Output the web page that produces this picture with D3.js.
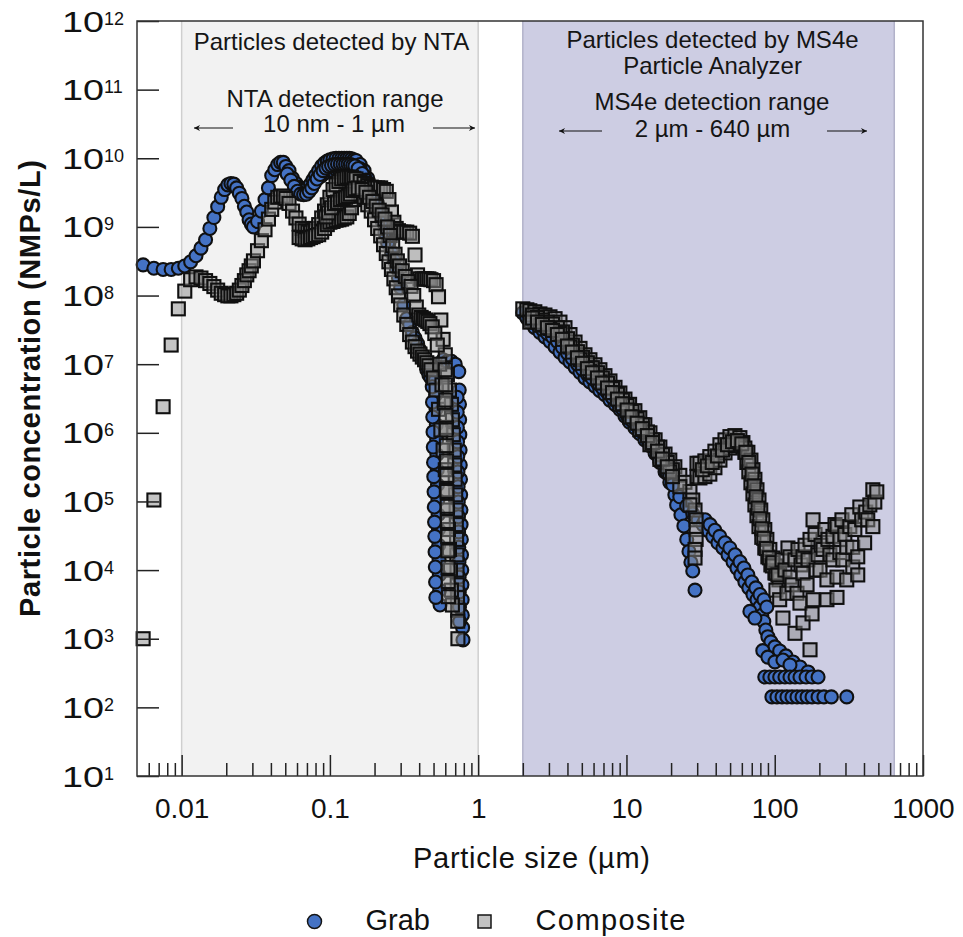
<!DOCTYPE html>
<html>
<head>
<meta charset="utf-8">
<script src="https://cdn.jsdelivr.net/npm/d3@7"></script>
<style>
body { margin: 0; background: #fff; }
svg text { font-family: "Liberation Sans", Arial, sans-serif; }
</style>
</head>
<body>
<svg id="chart" width="963" height="937"></svg>
<script>
// particle size (um), concentration (NMPs/L)
var grabNTA = [[0.0055,2.8e8],[0.0065,2.5e8],[0.0075,2.4e8],[0.0085,2.4e8],[0.0095,2.5e8],[0.0105,2.7e8],[0.0115,3.1e8],[0.0125,3.8e8],[0.0135,4.9e8],[0.0145,6.5e8],[0.0155,9.5e8],[0.0165,1.37e9],[0.0175,1.97e9],[0.0185,2.7e9],[0.0195,3.5e9],[0.0205,4.1e9],[0.0215,4.3e9],[0.0225,4.2e9],[0.0235,3.7e9],[0.0245,3.1e9],[0.0255,2.6e9],[0.0265,2.0e9],[0.0275,1.65e9],[0.0285,1.27e9],[0.0295,1.1e9],[0.0305,1.0e9],[0.0325,1.2e9],[0.0345,1.7e9],[0.0365,2.5e9],[0.0385,3.7e9],[0.0405,5.6e9],[0.0425,6.8e9],[0.0445,8.1e9],[0.0465,8.7e9],[0.0485,8.7e9],[0.0505,7.6e9],[0.053,6.6e9],[0.056,5.1e9],[0.059,4.3e9],[0.062,3.8e9],[0.065,3.6e9],[0.068,3.6e9],[0.071,3.8e9],[0.074,4.2e9],[0.077,4.9e9],[0.080,5.6e9],[0.084,6.6e9],[0.088,7.7e9],[0.092,8.5e9],[0.096,9.1e9],[0.100,9.5e9],[0.105,9.8e9],[0.110,1.0e10],[0.115,1.0e10],[0.120,1.0e10],[0.125,1.0e10],[0.130,1.0e10],[0.135,1.0e10],[0.140,9.8e9],[0.145,9.5e9],[0.150,9.3e9],[0.160,8.1e9],[0.170,6.6e9],[0.180,5.1e9],[0.190,4.0e9],[0.200,3.0e9],[0.210,2.2e9],[0.220,1.7e9],[0.230,1.2e9],[0.240,8.4e8],[0.250,5.9e8],[0.260,4.3e8],[0.270,3.3e8],[0.280,2.5e8],[0.290,1.8e8],[0.300,1.3e8],[0.315,7.3e7],[0.330,4.6e7],[0.345,3.8e7],[0.360,2.9e7],[0.375,2.4e7],[0.390,2.0e7],[0.405,1.6e7],[0.420,1.3e7],[0.435,1.1e7],[0.450,8.3e6],[0.465,7.0e6],[0.480,6.3e6],[0.500,6.0e6]];
var grabNTA2 = [[0.084,5.2e9],[0.088,5.6e9],[0.092,6.1e9],[0.096,6.3e9],[0.100,6.6e9],[0.105,6.6e9],[0.110,6.8e9],[0.115,6.8e9],[0.120,6.8e9],[0.125,6.8e9],[0.130,6.8e9],[0.135,6.8e9],[0.140,7.0e9],[0.145,7.3e9],[0.150,7.5e9],[0.160,7.0e9],[0.170,5.6e9],[0.180,4.4e9],[0.190,3.2e9],[0.200,2.5e9]];
var grabNTA3 = [[0.0515,5.9e9],[0.0545,4.8e9],[0.0575,3.9e9],[0.0605,3.3e9],[0.0635,3.0e9],[0.0665,2.95e9],[0.0695,3.0e9],[0.0725,3.3e9],[0.0755,3.7e9],[0.0785,4.3e9],[0.082,5.0e9],[0.086,5.8e9],[0.090,6.6e9],[0.094,7.2e9],[0.098,7.6e9],[0.1025,7.9e9],[0.1075,8.1e9],[0.1125,8.2e9],[0.1175,8.2e9],[0.1225,8.2e9],[0.1275,8.2e9],[0.1325,8.2e9],[0.1375,8.1e9],[0.1425,7.9e9],[0.1475,7.7e9],[0.155,7.1e9],[0.165,6.0e9],[0.175,4.8e9],[0.185,3.7e9],[0.195,2.9e9],[0.205,2.1e9],[0.215,1.6e9],[0.225,1.2e9],[0.235,8.2e8],[0.245,5.8e8]];
var grabTail = [[0.515,5.9e6],[0.517,3.6e6],[0.52,2.2e6],[0.522,1.31e6],[0.525,7.9e5],[0.527,4.8e5],[0.53,2.9e5],[0.532,1.75e5],[0.535,1.05e5],[0.537,6.4e4],[0.54,3.9e4],[0.542,2.3e4],[0.545,1.41e4],[0.547,8.5e3],[0.55,5.1e3],[0.553,3.1e3],[0.58,1.16e7],[0.62,1.1e7],[0.66,1.1e7],[0.70,1.0e7],[0.74,7.8e6],[0.745,4.2e6],[0.748,2.6e6],[0.75,1.55e6],[0.752,9.4e5],[0.755,5.6e5],[0.757,3.4e5],[0.76,2.1e5],[0.762,1.25e5],[0.765,7.5e4],[0.767,4.6e4],[0.77,2.8e4],[0.772,1.67e4],[0.775,1.0e4],[0.777,6.1e3],[0.78,3.7e3],[0.782,2.2e3],[0.785,1.45e3],[0.79,960]];
var grabTail2 = [[0.49,4.7e6],[0.492,2.8e6],[0.494,1.7e6],[0.496,1.03e6],[0.498,6.2e5],[0.50,3.7e5],[0.502,2.3e5],[0.504,1.38e5],[0.506,8.3e4],[0.508,5.0e4],[0.51,3.1e4],[0.512,1.84e4],[0.514,1.11e4],[0.516,6.7e3],[0.518,4.0e3],[0.72,3.3e6],[0.722,2.0e6],[0.724,1.2e6],[0.726,7.4e5],[0.728,4.5e5],[0.73,2.7e5],[0.732,1.64e5],[0.734,9.8e4],[0.736,6.0e4],[0.738,3.6e4],[0.74,2.15e4],[0.742,1.31e4],[0.744,7.9e3],[0.746,4.8e3],[0.748,2.9e3],[0.75,1.78e3]];
var grabMS4e = [[2.0,5.6e7],[2.13,4.7e7],[2.23,4.1e7],[2.41,3.4e7],[2.61,2.9e7],[2.82,2.5e7],[3.05,2.15e7],[3.30,1.78e7],[3.56,1.5e7],[3.85,1.25e7],[4.16,1.08e7],[4.50,9.0e6],[4.86,7.6e6],[5.25,6.3e6],[5.67,5.5e6],[6.13,4.8e6],[6.62,4.1e6],[7.16,3.6e6],[7.74,3.0e6],[8.37,2.6e6],[9.03,2.2e6],[9.77,1.75e6],[10.5,1.43e6],[11.4,1.18e6],[12.3,9.7e5],[13.3,7.9e5],[14.4,6.5e5],[15.6,5.0e5],[16.8,3.7e5],[18.2,2.7e5],[19.6,1.9e5],[21.2,1.25e5],[21.8,8.9e4],[23.3,6.4e4],[24.4,4.4e4],[25.5,2.8e4],[26.4,1.87e4],[27.2,1.3e4],[28.0,9.7e3],[29.0,5.1e3]];
var grabMS4e2 = [[16.8,4.0e5],[18.7,2.7e5],[20.5,1.75e5],[22.9,1.17e5],[25.5,8.6e4],[28.0,6.6e4],[30.4,5.4e4],[32.8,4.6e4],[35.4,3.8e4],[38.2,3.1e4],[41.4,2.5e4],[44.7,2.1e4],[48.4,1.67e4],[52.3,1.32e4],[55.6,1.07e4],[59.1,8.5e3],[62.9,6.7e3],[66.9,5.5e3],[71.3,4.4e3],[75.9,3.7e3],[79.3,2.9e3],[81.8,2.2e3],[84.4,1.78e3],[87.1,1.34e3],[89.9,1.07e3],[94.2,900],[100.3,760],[108,664],[119,562],[132.8,459],[148,388],[167.8,328],[68.0,2.5e3],[73.5,2.0e3],[83.1,670],[89.9,540],[100.3,460],[113.6,490],[126.7,415]];
var grabMS4e3 = [[33.9,5.4e4],[36.6,4.6e4],[39.5,3.8e4],[42.6,3.1e4],[46.2,2.5e4],[49.8,2.1e4],[54.0,1.67e4],[58.3,1.32e4],[62.0,1.07e4],[65.9,8.5e3],[70.1,6.7e3],[74.6,5.5e3],[79.5,4.4e3],[84.6,3.7e3],[88.4,2.9e3]];
var grabMS4e4 = [[2.32,4.2e7],[2.51,3.7e7],[2.71,3.2e7],[2.93,2.8e7],[3.17,2.5e7],[3.42,2.15e7],[3.70,1.75e7],[4.00,1.45e7],[4.32,1.2e7],[4.67,1.0e7],[5.05,8.4e6],[5.45,7.1e6],[5.89,6.2e6],[6.37,5.3e6],[6.88,4.5e6],[7.45,3.85e6],[8.05,3.25e6],[8.69,2.8e6],[9.39,2.25e6],[10.1,1.8e6],[10.9,1.5e6],[11.8,1.27e6],[12.8,1.03e6],[13.85,8.0e5],[15.0,6.4e5],[16.2,4.9e5],[17.5,3.6e5],[18.85,2.7e5],[20.4,1.9e5]];
var grabFloor = [[85.7,277],[92.7,277],[100.3,277],[108,277],[117.2,277],[126.7,277],[137,277],[148,277],[162.6,277],[178.5,277],[196,277],[95.7,142],[103.5,142],[112,142],[120.9,142],[130.7,142],[141.3,142],[152.8,142],[165.2,142],[178.5,142],[196,142],[214.6,142],[241,142],[306,142]];

var compNTA = [[0.0055,1.0e3],[0.0065,1.05e5],[0.0075,2.4e6],[0.0085,1.9e7],[0.0095,6.4e7],[0.0105,1.16e8],[0.0115,1.7e8],[0.0125,1.87e8],[0.0135,1.8e8],[0.0145,1.65e8],[0.0155,1.5e8],[0.0165,1.35e8],[0.0175,1.2e8],[0.0185,1.08e8],[0.0195,1.03e8],[0.0205,9.9e7],[0.0215,9.9e7],[0.0225,1.03e8],[0.0235,1.08e8],[0.0245,1.2e8],[0.0255,1.4e8],[0.0265,1.65e8],[0.0275,2.0e8],[0.0285,2.3e8],[0.0295,2.7e8],[0.0305,3.2e8],[0.0325,4.5e8],[0.0345,6.3e8],[0.0365,9.1e8],[0.0385,1.3e9],[0.0405,1.8e9],[0.0425,2.3e9],[0.0445,2.7e9],[0.0465,2.8e9],[0.0485,2.8e9],[0.0505,2.6e9],[0.053,2.2e9],[0.056,1.7e9],[0.059,1.35e9],[0.062,1.1e9],[0.065,9.5e8],[0.068,8.8e8],[0.071,8.4e8],[0.074,8.4e8],[0.077,8.8e8],[0.080,9.5e8],[0.084,1.08e9],[0.088,1.35e9],[0.092,1.7e9],[0.096,2.1e9],[0.100,2.7e9],[0.105,3.5e9],[0.110,4.1e9],[0.115,4.6e9],[0.120,5.0e9],[0.125,5.1e9],[0.130,5.3e9],[0.135,5.3e9],[0.140,5.3e9],[0.145,5.1e9],[0.150,5.0e9],[0.160,4.6e9],[0.170,4.3e9],[0.180,4.0e9],[0.190,3.8e9],[0.200,3.7e9],[0.210,3.7e9],[0.220,3.7e9],[0.230,3.5e9],[0.240,3.3e9],[0.250,2.5e9],[0.260,1.65e9],[0.270,1.17e9],[0.280,9.5e8],[0.290,8.8e8],[0.300,8.4e8],[0.315,8.4e8],[0.330,8.4e8],[0.345,8.1e8],[0.360,7.3e8],[0.375,3.9e8],[0.390,2.0e8],[0.405,1.75e8],[0.420,1.75e8],[0.435,1.75e8],[0.450,1.75e8],[0.465,1.75e8],[0.480,1.7e8],[0.500,1.65e8],[0.520,1.44e8],[0.540,9.6e7],[0.560,4.4e7],[0.580,2.3e7],[0.600,1.37e7],[0.620,7.0e6],[0.640,4.2e6],[0.660,2.6e6],[0.670,1.55e6],[0.680,9.4e5],[0.690,5.6e5],[0.695,3.4e5],[0.700,2.1e5],[0.705,1.25e5],[0.710,7.5e4],[0.712,4.6e4],[0.715,2.8e4],[0.718,1.67e4],[0.720,1.0e4],[0.722,6.1e3],[0.725,4.0e3],[0.728,2.6e3],[0.728,1.8e3],[0.730,1.0e3]];
var compNTA2 = [[0.062,7.0e8],[0.065,6.7e8],[0.068,6.5e8],[0.071,6.7e8],[0.074,7.0e8],[0.077,7.2e8],[0.080,7.5e8],[0.084,7.7e8],[0.088,8.4e8],[0.092,9.5e8],[0.096,1.08e9],[0.100,1.17e9],[0.105,1.2e9],[0.110,1.25e9],[0.115,1.27e9],[0.120,1.3e9],[0.125,1.35e9],[0.130,1.4e9],[0.135,1.57e9],[0.140,1.9e9],[0.145,2.5e9],[0.150,2.8e9],[0.160,3.0e9],[0.170,2.7e9],[0.180,2.1e9],[0.190,1.7e9],[0.200,1.27e9],[0.210,9.5e8],[0.220,7.4e8],[0.230,5.5e8],[0.240,4.1e8],[0.250,3.1e8],[0.260,2.4e8],[0.270,1.75e8],[0.280,1.3e8],[0.290,9.9e7],[0.300,7.3e7],[0.315,5.2e7],[0.330,3.8e7],[0.345,2.7e7],[0.360,2.1e7],[0.375,1.8e7],[0.390,1.55e7],[0.405,1.4e7],[0.420,1.27e7],[0.435,1.16e7],[0.450,1.05e7],[0.465,9.5e6],[0.480,8.3e6],[0.500,6.3e6],[0.520,4.2e6],[0.540,2.2e6],[0.560,1.1e6],[0.580,5.6e5],[0.600,2.9e5],[0.610,1.48e5],[0.620,7.5e4],[0.630,3.9e4],[0.640,2.0e4],[0.650,1.0e4],[0.660,5.1e3],[0.670,3.1e3]];
var compNTA3 = [[0.094,1.4e9],[0.098,1.6e9],[0.1025,1.9e9],[0.1075,2.2e9],[0.1125,2.3e9],[0.1175,2.5e9],[0.1225,2.6e9],[0.1275,2.7e9],[0.1325,2.8e9],[0.1375,3.0e9],[0.1425,3.4e9],[0.1475,3.6e9],[0.155,3.7e9],[0.165,3.5e9],[0.175,3.2e9],[0.185,2.7e9],[0.195,2.35e9],[0.205,2.0e9],[0.215,1.75e9],[0.225,1.5e9],[0.235,1.3e9],[0.245,1.0e9],[0.255,7.5e8],[0.265,5.3e8],[0.275,4.0e8],[0.285,3.2e8],[0.295,2.7e8],[0.3075,2.3e8],[0.3225,1.9e8],[0.3375,1.6e8],[0.3525,1.36e8],[0.3675,1.0e8],[0.3825,6.8e7],[0.3975,5.2e7],[0.4125,4.8e7],[0.4275,4.6e7],[0.4425,4.4e7],[0.4575,4.2e7],[0.4725,3.9e7],[0.49,3.5e7],[0.51,2.8e7],[0.53,1.9e7],[0.55,1.0e7],[0.57,5.0e6],[0.59,2.7e6],[0.61,1.2e6]];
var compTail = [[0.600,8.3e6],[0.602,5.0e6],[0.604,3.0e6],[0.606,1.8e6],[0.608,1.1e6],[0.610,6.5e5],[0.612,3.9e5],[0.614,2.4e5],[0.616,1.4e5],[0.618,8.5e4],[0.620,5.1e4],[0.622,3.1e4],[0.624,1.9e4],[0.626,1.1e4],[0.628,6.8e3],[0.630,4.1e3]];
var compMS4e = [[2.0,6.4e7],[2.13,6.2e7],[2.23,6.0e7],[2.41,5.8e7],[2.61,5.4e7],[2.82,5.2e7],[3.05,4.9e7],[3.30,4.6e7],[3.56,4.1e7],[3.85,3.4e7],[4.16,2.7e7],[4.50,2.1e7],[4.86,1.7e7],[5.25,1.37e7],[5.67,1.16e7],[6.13,9.8e6],[6.62,8.3e6],[7.16,6.8e6],[7.74,5.7e6],[8.37,4.6e6],[9.03,3.8e6],[9.77,3.1e6],[10.5,2.6e6],[11.4,2.1e6],[12.3,1.66e6],[13.3,1.31e6],[14.4,1.0e6],[15.6,7.9e5],[16.8,6.2e5],[18.2,4.9e5],[19.6,4.0e5],[21.2,3.2e5],[22.9,2.4e5],[24.8,1.9e5],[26.8,1.4e5],[28.0,1.05e5],[29.0,7.5e4],[29.5,5.4e4],[29.5,3.9e4],[29.5,2.8e4],[29.0,2.0e4],[29.0,1.5e4]];
var compMS4e2 = [[2.23,4.1e7],[2.61,3.7e7],[3.05,3.3e7],[3.56,2.8e7],[4.16,1.78e7],[4.86,1.16e7],[5.67,7.8e6],[6.62,5.5e6],[7.74,3.85e6],[9.03,2.6e6],[10.5,1.7e6],[12.3,1.11e6],[14.4,6.7e5],[16.8,4.1e5],[19.6,2.7e5],[22.9,1.64e5],[26.8,8.9e4]];
var compMS4e3 = [[2.32,4.7e7],[2.51,4.1e7],[2.71,3.8e7],[2.93,3.4e7],[3.17,3.1e7],[3.42,2.7e7],[3.70,2.3e7],[4.00,1.84e7],[4.32,1.5e7],[4.67,1.24e7],[5.05,1.03e7],[5.45,8.6e6],[5.89,7.5e6],[6.37,6.3e6],[6.88,5.3e6],[7.45,4.5e6],[8.05,3.85e6],[8.69,3.1e6],[9.39,2.65e6],[10.1,2.15e6],[10.9,1.71e6],[11.8,1.38e6],[12.8,1.15e6],[13.85,9.1e5],[15.0,7.2e5],[16.2,5.4e5],[17.5,4.15e5],[18.85,3.2e5],[20.4,2.3e5]];
var compMS4e4 = [[2.32,5.2e7],[2.51,4.8e7],[2.71,4.4e7],[2.93,4.1e7],[3.17,3.85e7],[3.42,3.4e7],[3.70,2.95e7],[4.00,2.35e7],[4.32,1.9e7],[4.67,1.52e7],[5.05,1.26e7],[5.45,1.05e7],[5.89,8.9e6],[6.37,7.5e6],[6.88,6.3e6],[7.45,5.3e6],[8.05,4.4e6],[8.69,3.65e6],[9.39,3.0e6],[10.1,2.5e6],[10.9,2.05e6],[11.8,1.6e6],[12.8,1.31e6],[13.85,1.03e6],[15.0,7.9e5],[16.2,6.2e5],[17.5,4.8e5],[18.85,3.7e5],[20.4,2.9e5]];
var compHump = [[29.9,3.6e5],[31.3,3.6e5],[33.8,3.9e5],[36.5,4.5e5],[39.5,5.4e5],[42.7,6.7e5],[46.2,7.9e5],[49.9,8.8e5],[53.9,9.1e5],[58.2,8.5e5],[61.0,7.2e5],[62.9,5.2e5],[64.9,3.7e5],[66.9,2.7e5],[69.1,1.87e5],[71.3,1.29e5],[73.5,8.9e4],[75.9,6.2e4],[78.3,4.3e4],[81.8,3.0e4],[85.7,2.1e4],[89.9,1.56e4],[94.2,1.19e4],[100.3,9.1e3],[106.8,7.2e3]];
var compHump2 = [[29.9,2.3e5],[31.3,2.2e5],[33.8,2.3e5],[36.5,2.5e5],[39.5,3.1e5],[42.7,4.0e5],[46.2,5.1e5],[49.9,6.0e5],[53.9,6.5e5],[58.2,6.5e5],[62.9,6.0e5],[65.9,5.2e5],[69.1,4.0e5],[71.3,2.9e5],[73.5,2.1e5],[75.9,1.48e5],[78.3,1.05e5],[80.5,7.5e4],[83.1,5.4e4],[85.7,3.9e4],[88.5,2.8e4],[92.7,2.0e4],[97.2,1.5e4],[101.9,1.15e4],[108,9.1e3]];
var compHump3 = [[32.5,2.9e5],[35.1,3.3e5],[37.9,3.7e5],[41.1,4.6e5],[44.4,5.6e5],[48.0,6.7e5],[51.9,7.4e5],[56.0,7.7e5],[60.0,6.9e5],[63.9,5.2e5],[66.9,3.7e5],[70.2,2.5e5],[72.4,1.69e5],[74.7,1.17e5],[77.1,8.0e4],[79.3,5.6e4],[81.8,4.0e4],[84.4,2.9e4],[87.8,2.06e4],[92.0,1.51e4],[96.4,1.15e4],[101.9,9.0e3]];
var compScatter = [[97.2,1.28e4],[101.9,5.1e3],[105.1,8.5e3],[108,3.7e3],[112,1.41e4],[113.6,2.0e3],[117.2,1.0e4],[120.9,4.6e3],[122.8,2.1e4],[126.7,1.56e4],[126.7,7.9e3],[130.7,6.1e3],[137,1.2e3],[137,1.41e4],[141.3,4.6e3],[143.5,2.0e4],[148,3.3e3],[150.4,1.19e4],[155.2,1.56e4],[155.2,9.0e3],[155.2,1.7e3],[160.1,2.3e4],[165.2,6.1e3],[167.8,1.41e4],[173,690],[173,2.8e4],[178.5,2.3e3],[181.3,5.4e4],[181.3,3.7e3],[187,3.3e4],[190,1.0e4],[196,1.67e4],[202,1.0e4],[205,2.3e4],[211.5,2.0e4],[218,3.9e4],[225,7.2e3],[225,3.7e3],[228.5,2.8e4],[235.5,1.67e4],[247,3.1e4],[247,1.41e4],[255,4.6e4],[263,4.3e4],[263,7.9e3],[263,4.0e3],[275,2.8e4],[275,1.8e4],[284,5.4e4],[288,1.41e4],[297,3.3e4],[306,2.15e4],[306,7.2e3],[321,4.3e4],[331,6.4e4],[336,2.15e4],[336,1.11e4],[347,3.9e4],[363,1.56e4],[363,8.5e3],[375,8.3e4],[386,5.4e4],[404,2.5e4],[411,7.0e4],[424,5.4e4],[438,8.9e4],[459,1.48e5],[459,4.3e4],[473,9.8e4],[488,1.38e5]];

var ntaRange = [0.01, 1];
var ms4eRange = [2, 640];
var xMajor = [0.01, 0.1, 1, 10, 100, 1000];
var yExponents = [1, 2, 3, 4, 5, 6, 7, 8, 9, 10, 11, 12];

var grab = [].concat(grabNTA, grabNTA2, grabNTA3, grabTail, grabTail2, grabMS4e, grabMS4e4, grabMS4e2, grabMS4e3, grabFloor);
var composite = [].concat(compNTA, compNTA2, compNTA3, compTail, compMS4e, compMS4e4, compMS4e2, compMS4e3, compHump, compHump2, compHump3, compScatter);

var svgW = 963, svgH = 937;
var plotL = 137, plotR = 923, plotT = 21, plotB = 776;

var x = d3.scaleLog().domain([0.005, 1000]).range([plotL, plotR]);
var y = d3.scaleLog().domain([10, 1e12]).range([plotB, plotT]);

var svg = d3.select("#chart");
svg.append("rect").attr("width", svgW).attr("height", svgH).attr("fill", "#fff");

// detection range bands
[[ntaRange, "#f2f2f2", "#cfcfcf"], [ms4eRange, "#cdcde3", "#b2b2c9"]].forEach(function(r) {
	svg.append("rect")
		.attr("x", x(r[0][0]))
		.attr("y", plotT)
		.attr("width", x(r[0][1]) - x(r[0][0]))
		.attr("height", plotB - plotT)
		.attr("fill", r[1]);
	r[0].forEach(function(v) {
		svg.append("line")
			.attr("x1", x(v)).attr("x2", x(v))
			.attr("y1", plotT).attr("y2", plotB)
			.attr("stroke", r[2]).attr("stroke-width", 1.5);
	});
});

// annotations
var ann = svg.append("g").attr("fill", "#151515").attr("font-size", 24).attr("text-anchor", "middle");
ann.append("text").attr("x", 331.5).attr("y", 50).text("Particles detected by NTA");
ann.append("text").attr("x", 335).attr("y", 107).text("NTA detection range");
ann.append("text").attr("x", 334).attr("y", 132).text("10 nm - 1 µm");
ann.append("text").attr("x", 712.5).attr("y", 48).text("Particles detected by MS4e");
ann.append("text").attr("x", 712.5).attr("y", 74).text("Particle Analyzer");
ann.append("text").attr("x", 712).attr("y", 110).text("MS4e detection range");
ann.append("text").attr("x", 712.5).attr("y", 137).text("2 µm - 640 µm");

svg.append("defs").append("marker")
	.attr("id", "head")
	.attr("viewBox", "0 0 10 10")
	.attr("refX", 10).attr("refY", 5)
	.attr("markerWidth", 9).attr("markerHeight", 6)
	.attr("markerUnits", "userSpaceOnUse")
	.attr("orient", "auto")
	.append("path").attr("d", "M0,0L10,5L0,10L3,5Z").attr("fill", "#111");

[[233, 194, 128], [433, 475, 128], [602, 559, 131], [827, 867, 131]].forEach(function(a) {
	svg.append("line")
		.attr("x1", a[0]).attr("x2", a[1])
		.attr("y1", a[2]).attr("y2", a[2])
		.attr("stroke", "#111").attr("stroke-width", 1.2)
		.attr("marker-end", "url(#head)");
});

// points
svg.append("g").selectAll("circle")
	.data(grab)
	.enter().append("circle")
	.attr("cx", function(d) { return x(d[0]); })
	.attr("cy", function(d) { return y(d[1]); })
	.attr("r", 6.5)
	.attr("fill", "#4472c4")
	.attr("stroke", "#101010")
	.attr("stroke-width", 2.1);

svg.append("g").selectAll("rect")
	.data(composite)
	.enter().append("rect")
	.attr("x", function(d) { return x(d[0]) - 6.5; })
	.attr("y", function(d) { return y(d[1]) - 6.5; })
	.attr("width", 13)
	.attr("height", 13)
	.attr("fill", "#8a8a8a")
	.attr("fill-opacity", 0.5)
	.attr("stroke", "#101010")
	.attr("stroke-width", 2.1);

// axes
var xMinor = x.ticks().filter(function(t) { return xMajor.indexOf(t) < 0 && t > 0.0051; });

svg.append("g")
	.attr("transform", "translate(0," + plotB + ")")
	.call(d3.axisBottom(x).tickValues(xMinor).tickSize(-13).tickFormat(""))
	.call(function(g) { g.select(".domain").remove(); g.selectAll("line").attr("stroke", "#222").attr("stroke-width", 1.5); });

svg.append("g")
	.attr("transform", "translate(0," + plotB + ")")
	.call(d3.axisBottom(x).tickValues(xMajor).tickSize(-21).tickPadding(22).tickFormat(d3.format("~g")))
	.call(function(g) {
		g.select(".domain").remove();
		g.selectAll("line").attr("stroke", "#222").attr("stroke-width", 1.5);
		g.selectAll("text").attr("font-size", 28).attr("fill", "#111").attr("font-family", "Liberation Sans, Arial, sans-serif");
	});

svg.append("g")
	.attr("transform", "translate(" + plotL + ",0)")
	.call(d3.axisLeft(y).tickValues(yExponents.map(function(e) { return Math.pow(10, e); })).tickSize(-22).tickFormat(""))
	.call(function(g) { g.select(".domain").remove(); g.selectAll("line").attr("stroke", "#222").attr("stroke-width", 1.5); });

var yl = svg.append("g").attr("fill", "#111");
yExponents.forEach(function(e) {
	var ty = y(Math.pow(10, e));
	yl.append("text")
		.attr("x", 62).attr("y", ty + 10.5)
		.attr("font-size", 29)
		.attr("textLength", 42).attr("lengthAdjust", "spacingAndGlyphs")
		.text("10");
	yl.append("text")
		.attr("x", 104).attr("y", ty + 3.5)
		.attr("font-size", 18)
		.text(e);
});

svg.append("rect")
	.attr("x", plotL).attr("y", plotT)
	.attr("width", plotR - plotL).attr("height", plotB - plotT)
	.attr("fill", "none").attr("stroke", "#333").attr("stroke-width", 1.5);

// axis titles
svg.append("text")
	.attr("x", 531.5).attr("y", 868)
	.attr("text-anchor", "middle")
	.attr("font-size", 29)
	.attr("textLength", 237)
	.attr("fill", "#111")
	.text("Particle size (µm)");

svg.append("text")
	.attr("transform", "translate(40,388.5) rotate(-90)")
	.attr("text-anchor", "middle")
	.attr("font-size", 29)
	.attr("font-weight", "bold")
	.attr("textLength", 457)
	.attr("fill", "#111")
	.text("Particle concentration (NMPs/L)");

// legend
var lg = svg.append("g").attr("font-size", 29).attr("fill", "#111");
lg.append("circle").attr("cx", 314.5).attr("cy", 921.5).attr("r", 7)
	.attr("fill", "#4472c4").attr("stroke", "#151515").attr("stroke-width", 1.5);
lg.append("text").attr("x", 365.5).attr("y", 930).text("Grab");
lg.append("rect").attr("x", 478).attr("y", 915).attr("width", 13).attr("height", 13)
	.attr("fill", "#c2c2c2").attr("stroke", "#151515").attr("stroke-width", 1.5);
lg.append("text").attr("x", 535.5).attr("y", 930).attr("textLength", 150).text("Composite");
</script>
</body>
</html>
